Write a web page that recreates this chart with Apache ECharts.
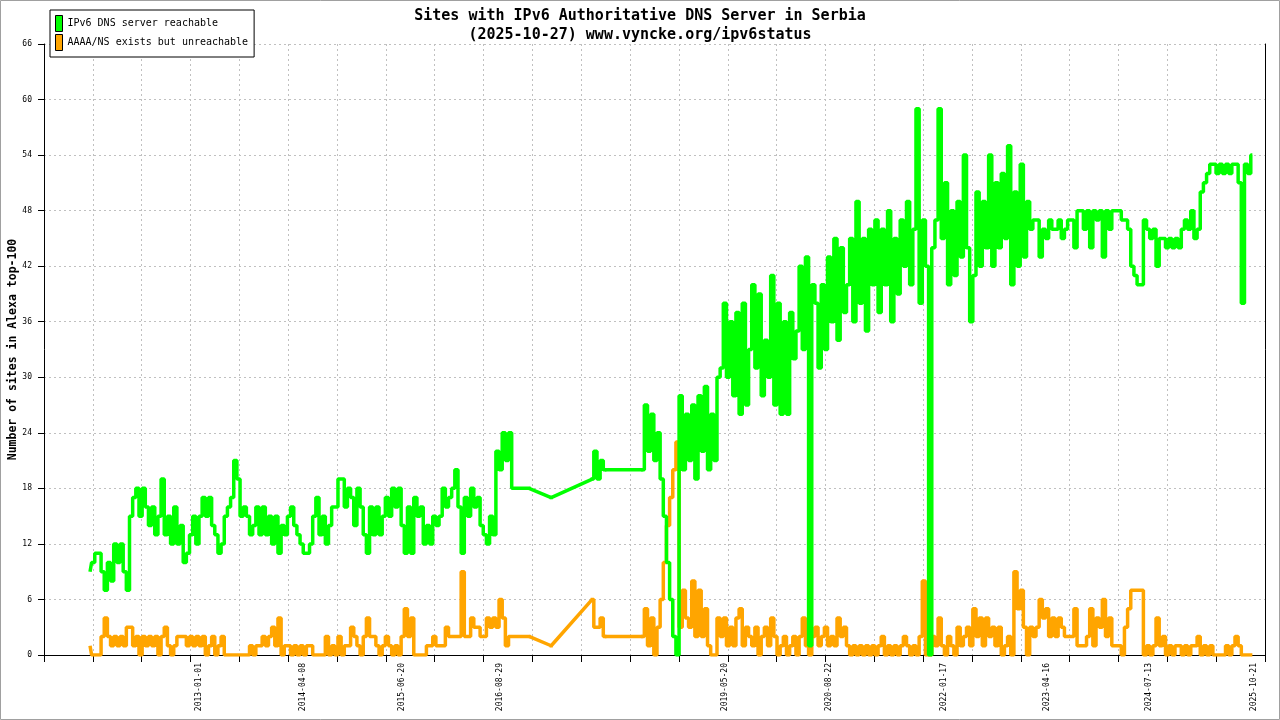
<!DOCTYPE html>
<html>
<head>
<meta charset="utf-8">
<title>Sites with IPv6 Authoritative DNS Server in Serbia</title>
<script src="https://cdn.jsdelivr.net/npm/echarts@6.0.0/dist/echarts.min.js"></script>
<style>
  html, body { margin: 0; padding: 0; background: #fff; }
  #main { width: 1280px; height: 720px; }
</style>
</head>
<body>
<div id="main"></div>
<script>
// one sample every two weeks, starting from the first measurement
var startDate = '2011-09-06';
var stepDays = 14;

// sites whose IPv6 DNS server answers (null = no sample, a straight line bridges it)
var reachable = [
  9, 10, 11, 11, 9, 7, 10, 8, 12, 10,
  12, 9, 7, 15, 17, 18, 15, 18, 16, 14,
  16, 13, 15, 19, 13, 15, 12, 16, 12, 14,
  10, 11, 13, 15, 12, 15, 17, 15, 17, 14,
  13, 11, 12, 15, 16, 17, 21, 19, 15, 16,
  15, 13, 14, 16, 13, 16, 13, 15, 12, 15,
  11, 14, 13, 15, 16, 14, 13, 12, 11, 11,
  12, 15, 17, 13, 15, 12, 14, 16, 16, 19,
  19, 16, 18, 17, 14, 18, 16, 13, 11, 16,
  13, 16, 13, 15, 17, 15, 18, 16, 18, 14,
  11, 16, 11, 17, 15, 16, 12, 14, 12, 15,
  14, 15, 18, 16, 17, 18, 20, 16, 11, 17,
  15, 18, 16, 17, 14, 13, 12, 15, 13, 22,
  20, 24, 21, 24, 18, 18, 18, 18, 18, 18,
  null, null, null, null, null, null, 17, null, null, null,
  null, null, null, null, null, null, null, null, null, 19,
  22, 19, 21, 20, null, null, null, null, null, null,
  null, null, null, null, null, 20, 27, 22, 26, 21,
  24, 19, 15, 10, 6, 2, 0, 28, 20, 26,
  21, 27, 19, 28, 22, 29, 20, 26, 21, 30,
  31, 38, 30, 36, 28, 37, 26, 38, 27, 33,
  40, 31, 39, 28, 34, 30, 41, 27, 38, 26,
  36, 26, 37, 32, 35, 42, 33, 43, 1, 40,
  38, 31, 40, 33, 43, 36, 45, 34, 44, 37,
  40, 45, 36, 49, 38, 45, 35, 46, 40, 47,
  37, 46, 40, 48, 36, 45, 39, 47, 42, 49,
  40, 46, 59, 38, 47, 42, 0, 44, 47, 59,
  45, 51, 40, 48, 41, 49, 43, 54, 44, 36,
  41, 50, 42, 49, 44, 54, 42, 51, 44, 52,
  45, 55, 40, 50, 42, 53, 43, 49, 46, 47,
  47, 43, 46, 45, 47, 46, 46, 47, 45, 46,
  47, 47, 44, 48, 48, 46, 48, 44, 48, 47,
  48, 43, 48, 46, 48, 48, 48, 47, 47, 46,
  42, 41, 40, 40, 47, 46, 45, 46, 42, 45,
  45, 44, 45, 44, 45, 44, 46, 47, 46, 48,
  45, 46, 50, 51, 52, 53, 53, 52, 53, 52,
  53, 52, 53, 53, 51, 38, 53, 52, 54
];

// sites with AAAA/NS records whose server does not answer
var unreachable = [
  1, 0, 0, 0, 2, 4, 2, 1, 2, 1,
  2, 1, 3, 3, 1, 2, 0, 2, 1, 2,
  1, 2, 0, 2, 3, 1, 0, 1, 2, 2,
  2, 1, 2, 1, 2, 1, 2, 0, 1, 2,
  0, 1, 2, 0, 0, 0, 0, 0, 0, 0,
  0, 1, 0, 1, 1, 2, 1, 2, 3, 1,
  4, 0, 1, 1, 0, 1, 0, 1, 0, 1,
  1, 0, 0, 0, 0, 2, 0, 1, 0, 2,
  0, 1, 1, 3, 2, 1, 0, 2, 4, 2,
  2, 1, 0, 1, 2, 1, 0, 1, 0, 2,
  5, 2, 4, 0, 0, 0, 0, 1, 1, 2,
  1, 1, 1, 3, 2, 2, 2, 2, 9, 2,
  2, 4, 3, 3, 2, 2, 4, 3, 4, 3,
  6, 4, 1, 2, 2, 2, 2, 2, 2, 2,
  null, null, null, null, null, null, 1, null, null, null,
  null, null, null, null, null, null, null, null, null, 6,
  3, 3, 4, 2, null, null, null, null, null, null,
  null, null, null, null, null, 2, 5, 1, 4, 0,
  3, 6, 10, 14, 17, 20, 23, 3, 7, 4,
  3, 8, 2, 7, 2, 5, 1, 0, 0, 4,
  2, 4, 1, 3, 1, 4, 5, 1, 3, 2,
  1, 3, 0, 2, 3, 1, 4, 2, 0, 1,
  2, 0, 1, 2, 0, 2, 4, 1, 0, 2,
  3, 1, 2, 3, 1, 2, 1, 4, 2, 3,
  1, 0, 1, 0, 1, 0, 1, 0, 1, 0,
  1, 2, 0, 1, 0, 1, 0, 1, 2, 1,
  0, 1, 0, 2, 8, 0, 0, 2, 1, 4,
  1, 0, 2, 1, 0, 3, 1, 2, 3, 1,
  5, 2, 4, 1, 4, 2, 3, 1, 3, 0,
  1, 2, 0, 9, 5, 7, 3, 0, 3, 2,
  3, 6, 4, 5, 2, 4, 2, 4, 3, 2,
  2, 2, 5, 1, 1, 1, 2, 5, 1, 4,
  3, 6, 2, 4, 1, 1, 1, 0, 3, 5,
  7, 7, 7, 7, 0, 1, 0, 1, 4, 1,
  2, 0, 1, 0, 1, 1, 0, 1, 0, 1,
  1, 2, 0, 1, 0, 1, 0, 0, 0, 0,
  1, 0, 1, 2, 1, 0, 0, 0, 0
];

var dateLabels = ['2013-01-01', '2014-04-08', '2015-06-20', '2016-08-29', '2019-05-20',
  '2020-08-22', '2022-01-17', '2023-04-16', '2024-07-13', '2025-10-21'];

var xRange = ['2011-02-14', '2025-12-09'];
var tickCount = 25; // gnuplot splits the time range into 25 equal steps
var yMax = 66;
var yStep = 6;

var seriesNames = ['IPv6 DNS server reachable', 'AAAA/NS exists but unreachable'];
var seriesColors = ['#00ff00', '#ffa500'];

var DAY = 86400000;
var MONO = '"DejaVu Sans Mono", "Liberation Mono", monospace';

function toPairs(values) {
  var t0 = Date.parse(startDate);
  return values.map(function (v, i) {
    return [t0 + i * stepDays * DAY, v === null ? '-' : v];
  });
}

// straight segments across the periods without samples
function gapBridges(values) {
  var pts = toPairs(values), out = [], last = -1;
  for (var i = 0; i < values.length; i++) {
    if (values[i] === null) continue;
    if (last >= 0 && i - last > 1) out.push(pts[last], pts[i], [pts[i][0], '-']);
    last = i;
  }
  return out;
}

function makeSeries(idx, values, z) {
  var base = {
    name: seriesNames[idx],
    type: 'line',
    showSymbol: false,
    symbol: 'none',
    connectNulls: false,
    lineStyle: { color: seriesColors[idx], width: 3.5 },
    itemStyle: { color: seriesColors[idx] },
    z: z
  };
  var stepped = Object.assign({}, base, { data: toPairs(values), step: 'middle' });
  var bridge = Object.assign({}, base, { data: gapBridges(values) });
  return [stepped, bridge];
}

var chart = echarts.init(document.getElementById('main'));

var option = {
  animation: false,
  backgroundColor: '#fff',
  title: {
    text: 'Sites with IPv6 Authoritative DNS Server in Serbia',
    subtext: '(2025-10-27) www.vyncke.org/ipv6status',
    left: 'center',
    top: 4,
    itemGap: 4,
    textStyle: { fontFamily: MONO, fontSize: 15, fontWeight: 'bold', color: '#000' },
    subtextStyle: { fontFamily: MONO, fontSize: 15, fontWeight: 'bold', color: '#000' }
  },
  legend: {
    orient: 'vertical',
    left: 50,
    top: 10,
    padding: [5, 6, 6, 5],
    itemGap: 2,
    itemWidth: 7,
    itemHeight: 16,
    icon: 'rect',
    borderColor: '#000',
    borderWidth: 1,
    backgroundColor: '#fff',
    itemStyle: { borderColor: '#000', borderWidth: 1 },
    textStyle: { fontFamily: MONO, fontSize: 10, color: '#000' },
    data: seriesNames
  },
  grid: { left: 44, right: 15, top: 44, bottom: 65, outerBoundsMode: 'none' },
  xAxis: [
    {
      type: 'value',
      min: Date.parse(xRange[0]),
      max: Date.parse(xRange[1]),
      axisLine: { lineStyle: { color: '#000', width: 1 } },
      axisTick: { show: false },
      splitLine: { show: false },
      axisLabel: {
        customValues: dateLabels.map(function (d) { return Date.parse(d); }),
        rotate: 90,
        margin: 8,
        fontFamily: MONO,
        fontSize: 8,
        color: '#000',
        formatter: function (v) { return new Date(v).toISOString().slice(0, 10); }
      }
    },
    {
      type: 'value',
      position: 'bottom',
      min: 0,
      max: tickCount,
      interval: 1,
      axisLine: { show: false },
      axisLabel: { show: false },
      axisTick: { show: true, length: 7, lineStyle: { color: '#000' } },
      splitLine: { show: true, lineStyle: { color: '#c0c0c0', type: [2, 3] } }
    }
  ],
  yAxis: [
    {
      type: 'value',
      min: 0,
      max: yMax,
      interval: yStep,
      name: 'Number of sites in Alexa top-100',
      nameLocation: 'middle',
      nameGap: 25,
      nameMoveOverlap: false,
      nameTextStyle: { fontFamily: MONO, fontSize: 11.5, fontWeight: 'bold', color: '#000' },
      axisLine: { show: true, lineStyle: { color: '#000', width: 1 } },
      axisTick: { show: true, length: 6, lineStyle: { color: '#000' } },
      axisLabel: { fontFamily: MONO, fontSize: 8, color: '#000', margin: 12 },
      splitLine: { show: true, lineStyle: { color: '#c0c0c0', type: [2, 3] } }
    },
    {
      type: 'value',
      position: 'right',
      min: 0,
      max: yMax,
      axisLine: { show: true, lineStyle: { color: '#000', width: 1 } },
      axisTick: { show: false },
      axisLabel: { show: false },
      splitLine: { show: false }
    }
  ],
  graphic: [{
    type: 'rect',
    shape: { x: 0.5, y: 0.5, width: 1279, height: 719 },
    style: { fill: 'none', stroke: '#a0a0a0', lineWidth: 1 },
    silent: true
  }],
  series: makeSeries(0, reachable, 3).concat(makeSeries(1, unreachable, 2))
};

chart.setOption(option);
</script>
</body>
</html>
